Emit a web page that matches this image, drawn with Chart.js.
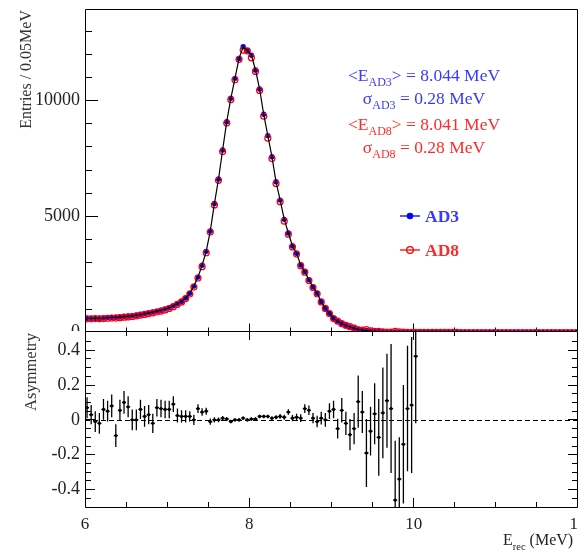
<!DOCTYPE html>
<html>
<head>
<meta charset="utf-8">
<title>AD3 / AD8 reconstructed energy</title>
<script src="https://cdn.jsdelivr.net/npm/chart.js@4.4.1/dist/chart.umd.min.js"></script>
<style>
  html, body { margin: 0; padding: 0; background: #fff; }
  #wrap { position: relative; width: 578px; height: 550px; overflow: hidden; background: #fff; }
  #spec { position: absolute; left: 0; top: 0; }
  #asym { position: absolute; left: 0; top: 331px; background: #fff; }
</style>
</head>
<body>
<div id="wrap">
  <canvas id="spec" width="578" height="340"></canvas>
  <canvas id="asym" width="578" height="219"></canvas>
</div>
<script>
// Histogram binning: 0.05 MeV bins from 6 to 12 MeV
const BIN_LO = 6.0;
const BIN_W = 0.05;

// Entries per bin, AD3
const ad3Counts = [
  615, 610, 605, 615, 625, 640, 650, 655, 670, 690,
  705, 720, 745, 775, 810, 845, 880, 920, 960, 1010,
  1070, 1150, 1240, 1340, 1490, 1690, 2000, 2390, 2900, 3500,
  4380, 5560, 6620, 7870, 9090, 10100, 10960, 11820, 12320, 12160,
  11960, 11320, 10500, 9410, 8490, 7580, 6500, 5710, 4880, 4290,
  3730, 3420, 2910, 2630, 2270, 1960, 1690, 1330, 1045, 830,
  615, 480, 390, 300, 235, 180, 140, 110, 85, 65,
  52, 42, 34, 28, 23, 19, 15, 12, 10, 8,
  6, 5, 4, 4, 3, 3, 3, 2, 2, 2,
  2, 2, 1, 1, 1, 1, 1, 1, 1, 1,
  1, 1, 1, 0, 1, 0, 0, 1, 0, 0,
  0, 0, 0, 1, 0, 0, 0, 0, 0, 0
];

// Entries per bin, AD8
const ad8Counts = [
  590, 590, 600, 590, 600, 615, 625, 620, 640, 660,
  670, 690, 715, 745, 780, 815, 850, 885, 925, 975,
  1035, 1115, 1215, 1320, 1465, 1660, 1960, 2350, 2840, 3440,
  4330, 5500, 6560, 7800, 9030, 10040, 10900, 11780, 12180, 12140,
  11850, 11260, 10440, 9330, 8380, 7500, 6420, 5640, 4800, 4240,
  3690, 3380, 2880, 2600, 2240, 1940, 1670, 1320, 1040, 820,
  600, 490, 380, 305, 250, 190, 115, 100, 125, 75,
  50, 50, 31, 22, 20, 45, 30, 16, 9, 7,
  3, 4, 4, 3, 3, 2, 2, 2, 2, 2,
  2, 1, 1, 1, 1, 1, 1, 1, 1, 1,
  1, 1, 0, 1, 0, 0, 1, 0, 0, 0,
  0, 0, 0, 0, 0, 1, 0, 0, 0, 0
];

// Bin-by-bin asymmetry and its error (6.0 - 10.05 MeV)
const asymValues = [
  0.07, 0.03, -0.01, -0.02, 0.06, 0.05, 0.08, -0.09, 0.055, 0.10,
  0.075, 0.0, 0.0, 0.06, 0.02, 0.03, -0.02, 0.07, 0.065, 0.06,
  0.06, 0.09, 0.025, 0.02, 0.02, 0.02, 0.0, 0.065, 0.045, 0.05,
  -0.01, 0.0, 0.0, 0.01, 0.005, -0.01, 0.0, 0.0, 0.01, 0.0,
  0.005, 0.005, 0.02, 0.02, 0.02, 0.01, 0.015, 0.02, 0.015, 0.045,
  0.01, 0.015, 0.01, 0.065, 0.055, 0.01, -0.01, 0.01, 0.0, 0.05,
  0.06, -0.05, 0.055, -0.02, -0.085, -0.05, 0.105, 0.045, -0.19, -0.065,
  0.035, -0.10, 0.04, 0.11, 0.065, -0.46, -0.34, -0.14, 0.065, 0.085,
  0.365
];
const asymErrors = [
  0.06, 0.055, 0.06, 0.06, 0.06, 0.06, 0.065, 0.065, 0.06, 0.065,
  0.06, 0.06, 0.06, 0.055, 0.06, 0.055, 0.055, 0.05, 0.05, 0.05,
  0.05, 0.045, 0.04, 0.035, 0.035, 0.03, 0.03, 0.025, 0.022, 0.02,
  0.018, 0.015, 0.013, 0.012, 0.011, 0.01, 0.01, 0.01, 0.01, 0.01,
  0.01, 0.01, 0.01, 0.01, 0.01, 0.01, 0.012, 0.013, 0.015, 0.016,
  0.018, 0.02, 0.022, 0.025, 0.027, 0.03, 0.033, 0.037, 0.04, 0.045,
  0.05, 0.057, 0.07, 0.067, 0.09, 0.09, 0.15, 0.12, 0.195, 0.14,
  0.175, 0.22, 0.26, 0.27, 0.37, 0.34, 0.24, 0.34, 0.36, 0.39,
  0.385
];

// Axis ticks
const xMajorTicks = [6, 8, 10, 12];
const xMinorTicks = [6.5, 7, 7.5, 8.5, 9, 9.5, 10.5, 11, 11.5];
const specYLabels = [0, 5000, 10000];
const specYMinor = [1000, 2000, 3000, 4000, 6000, 7000, 8000, 9000, 11000, 12000, 13000];
const asymYLabels = [-0.4, -0.2, 0, 0.2, 0.4];
const asymYMinor = [-0.45, -0.35, -0.3, -0.25, -0.15, -0.1, -0.05, 0.05, 0.1, 0.15, 0.25, 0.3, 0.35, 0.45];

// Fitted peak statistics
const detectors = ['AD3', 'AD8'];
const meanEnergy = ['8.044', '8.041'];
const sigmaEnergy = ['0.28', '0.28'];

const SERIF = "'Liberation Serif', 'Times New Roman', serif";
const BLUE = '#0000ff';
const RED = '#ff0000';
const TEXT_BLUE = '#3838ff';
const TEXT_RED = '#ff2a2a';
const INK = '#222';

const SPEC_MAX = 13950;
const ASYM_MIN = -0.5;
const ASYM_MAX = 0.51;

const binCenters = ad3Counts.map((_, i) => BIN_LO + BIN_W * (i + 0.5));
const toPoints = counts => counts.map((c, i) => ({ x: binCenters[i], y: c }));

// ---- helpers ----
function richWidth(ctx, parts, size, subSize) {
  let w = 0;
  parts.forEach(p => {
    ctx.font = `${p.sub ? subSize : size}px ${SERIF}`;
    w += ctx.measureText(p.t).width;
  });
  return w;
}

function drawRich(ctx, parts, x, y, size, subSize, color) {
  ctx.fillStyle = color;
  ctx.textAlign = 'left';
  ctx.textBaseline = 'alphabetic';
  parts.forEach(p => {
    ctx.font = `${p.sub ? subSize : size}px ${SERIF}`;
    ctx.fillText(p.t, x, p.sub ? y + 5 : y);
    x += ctx.measureText(p.t).width;
  });
}

const fitNoPad = s => { s.paddingTop = 0; s.paddingBottom = 0; s.paddingLeft = 0; s.paddingRight = 0; };

// Grid options that only draw short inward tick marks
const inwardTicks = len => ({
  display: true, drawOnChartArea: false, drawTicks: true, tickLength: -len,
  color: '#000', tickColor: '#000', lineWidth: 1, tickWidth: 1
});

// Zero-size axis that carries nothing but a set of inward ticks
function tickAxis(axis, position, min, max, values, len) {
  return {
    type: 'linear', axis, position, min, max, weight: 0,
    afterBuildTicks: s => { s.ticks = values.map(v => ({ value: v })); },
    afterFit: s => { if (axis === 'x') s.height = 0; else s.width = 0; fitNoPad(s); },
    grid: inwardTicks(len),
    border: { display: false },
    ticks: { display: false }
  };
}

// Plain rectangular frame round the plot area
const frameBox = {
  id: 'frameBox',
  afterDraw(chart) {
    const { ctx, chartArea: a } = chart;
    const L = Math.round(a.left) + 0.5;
    const R = Math.round(a.right) - 0.5;
    const T = Math.round(a.top) + 0.5;
    const B = Math.round(a.bottom) + 0.5;
    ctx.save();
    ctx.strokeStyle = '#000';
    ctx.lineWidth = 1;
    ctx.beginPath();
    ctx.moveTo(L, B); ctx.lineTo(L, T); ctx.lineTo(R, T); ctx.lineTo(R, B); ctx.lineTo(L, B);
    ctx.stroke();
    ctx.restore();
  }
};

// Peak statistics and legend on the spectrum pad
const spectrumNotes = {
  id: 'spectrumNotes',
  afterDraw(chart) {
    const ctx = chart.ctx;
    const colors = [TEXT_BLUE, TEXT_RED];
    const baselines = [[81, 104], [130, 153]];
    ctx.save();
    detectors.forEach((d, k) => {
      const lines = [
        [{ t: '<E' }, { t: d, sub: true }, { t: '> = ' + meanEnergy[k] + ' MeV' }],
        [{ t: 'σ' }, { t: d, sub: true }, { t: ' = ' + sigmaEnergy[k] + ' MeV' }]
      ];
      lines.forEach((parts, j) => {
        const w = richWidth(ctx, parts, 17.5, 12);
        drawRich(ctx, parts, 424 - w / 2, baselines[k][j], 17.5, 12, colors[k]);
      });
    });

    // legend entries
    const legendY = [216, 250];
    const markColors = [BLUE, RED];
    detectors.forEach((d, k) => {
      const yy = legendY[k];
      ctx.strokeStyle = markColors[k];
      ctx.lineWidth = 1.3;
      ctx.beginPath();
      ctx.moveTo(400, yy); ctx.lineTo(420, yy);
      ctx.stroke();
      ctx.beginPath();
      ctx.arc(410, yy, 3.3, 0, Math.PI * 2);
      if (k === 0) { ctx.fillStyle = BLUE; ctx.fill(); }
      else { ctx.fillStyle = '#fff'; ctx.fill(); ctx.stroke(); ctx.beginPath(); ctx.moveTo(406.7, yy); ctx.lineTo(413.3, yy); ctx.stroke(); }
      ctx.font = `bold 17.5px ${SERIF}`;
      ctx.fillStyle = k === 0 ? TEXT_BLUE : TEXT_RED;
      ctx.textAlign = 'left';
      ctx.textBaseline = 'middle';
      ctx.fillText(d, 425, yy + 1);
    });

    // vertical axis title
    ctx.font = `16px ${SERIF}`;
    ctx.fillStyle = '#333';
    ctx.translate(27, 10);
    ctx.rotate(-Math.PI / 2);
    ctx.textAlign = 'right';
    ctx.textBaseline = 'middle';
    ctx.fillText('Entries / 0.05MeV', 0, 0);
    ctx.restore();
  }
};

// Error bars, zero line and titles on the asymmetry pad
const asymDecor = {
  id: 'asymDecor',
  beforeDatasetsDraw(chart) {
    const { ctx, chartArea: a, scales: { x, y } } = chart;
    ctx.save();
    ctx.strokeStyle = '#000';
    ctx.lineWidth = 1;
    ctx.setLineDash([5, 3]);
    const y0 = Math.round(y.getPixelForValue(0)) + 0.5;
    ctx.beginPath();
    ctx.moveTo(x.getPixelForValue(6), y0);
    ctx.lineTo(x.getPixelForValue(12), y0);
    ctx.stroke();
    ctx.setLineDash([]);

    ctx.beginPath();
    ctx.rect(a.left, a.top, a.right - a.left, a.bottom - a.top);
    ctx.clip();
    ctx.lineWidth = 1.3;
    ctx.beginPath();
    asymValues.forEach((v, i) => {
      const xc = x.getPixelForValue(binCenters[i]);
      const xl = x.getPixelForValue(binCenters[i] - BIN_W / 2);
      const xr = x.getPixelForValue(binCenters[i] + BIN_W / 2);
      const yc = y.getPixelForValue(v);
      ctx.moveTo(xc, y.getPixelForValue(v - asymErrors[i]));
      ctx.lineTo(xc, y.getPixelForValue(v + asymErrors[i]));
      ctx.moveTo(xl, yc);
      ctx.lineTo(xr, yc);
    });
    ctx.stroke();
    ctx.restore();
  },
  afterDraw(chart) {
    const ctx = chart.ctx;
    ctx.save();
    ctx.fillStyle = '#333';
    ctx.font = `16.5px ${SERIF}`;
    ctx.translate(32, 2);
    ctx.rotate(-Math.PI / 2);
    ctx.textAlign = 'right';
    ctx.textBaseline = 'middle';
    ctx.fillText('Asymmetry', 0, 0);
    ctx.restore();

    ctx.save();
    drawRich(ctx, [{ t: 'E' }, { t: 'rec', sub: true }, { t: ' (MeV)' }], 503, 214, 16, 10.5, INK);
    ctx.restore();
  }
};

// ---- spectrum pad ----
new Chart(document.getElementById('spec'), {
  type: 'scatter',
  data: {
    datasets: [
      {
        label: 'AD3', data: toPoints(ad3Counts), order: 3,
        pointRadius: 2.7, pointBackgroundColor: BLUE, pointBorderColor: BLUE, pointBorderWidth: 0
      },
      {
        label: 'AD8', data: toPoints(ad8Counts), order: 2,
        pointRadius: 3, pointBackgroundColor: 'rgba(0,0,0,0)', pointBorderColor: RED, pointBorderWidth: 1.2
      },
      {
        label: 'curve', data: toPoints(ad3Counts), order: 1, showLine: true,
        pointRadius: 0, borderColor: '#000', borderWidth: 1.2, tension: 0
      }
    ]
  },
  options: {
    responsive: false,
    animation: false,
    events: [],
    layout: { autoPadding: false, padding: { top: 9, right: 0, left: 0, bottom: 7.5 } },
    plugins: {
      legend: { display: false },
      tooltip: { enabled: false }
    },
    scales: {
      x: {
        type: 'linear', position: 'bottom', min: 6, max: 12, weight: 1,
        afterBuildTicks: s => { s.ticks = xMajorTicks.map(v => ({ value: v })); },
        afterFit: s => { s.height = 0; fitNoPad(s); },
        grid: inwardTicks(9),
        border: { display: false },
        ticks: { display: false }
      },
      xMinor: tickAxis('x', 'bottom', 6, 12, xMinorTicks, 5),
      y: {
        position: 'left', min: 0, max: SPEC_MAX, weight: 1,
        afterBuildTicks: s => { s.ticks = specYLabels.map(v => ({ value: v })); },
        afterFit: s => { s.width = 85; fitNoPad(s); },
        grid: inwardTicks(13),
        border: { display: false },
        ticks: { padding: 18, autoSkip: false, color: INK, font: { family: SERIF, size: 18 }, callback: v => String(v) }
      },
      yMinor: tickAxis('y', 'left', 0, SPEC_MAX, specYMinor, 7)
    }
  },
  plugins: [frameBox, spectrumNotes]
});

// ---- asymmetry pad ----
new Chart(document.getElementById('asym'), {
  type: 'scatter',
  data: {
    datasets: [{
      label: 'asymmetry',
      data: asymValues.map((v, i) => ({ x: binCenters[i], y: v })),
      pointRadius: 1.6, pointBackgroundColor: '#000', pointBorderWidth: 0
    }]
  },
  options: {
    responsive: false,
    animation: false,
    events: [],
    layout: { autoPadding: false, padding: { top: 0, right: 0, left: 0, bottom: 0 } },
    plugins: {
      legend: { display: false },
      tooltip: { enabled: false }
    },
    scales: {
      x: {
        type: 'linear', position: 'bottom', min: 6, max: 12, weight: 1,
        afterBuildTicks: s => { s.ticks = xMajorTicks.map(v => ({ value: v })); },
        afterFit: s => { s.height = 43; fitNoPad(s); },
        grid: inwardTicks(9),
        border: { display: false },
        ticks: { padding: 16, maxRotation: 0, autoSkip: false, color: INK, font: { family: SERIF, size: 17 }, callback: v => String(v) }
      },
      xMinor: tickAxis('x', 'bottom', 6, 12, xMinorTicks, 5),
      xTop: tickAxis('x', 'top', 6, 12, xMajorTicks, 9),
      xTopMinor: tickAxis('x', 'top', 6, 12, xMinorTicks, 5),
      y: {
        position: 'left', min: ASYM_MIN, max: ASYM_MAX, weight: 1,
        afterBuildTicks: s => { s.ticks = asymYLabels.map(v => ({ value: v })); },
        afterFit: s => { s.width = 85; fitNoPad(s); },
        grid: inwardTicks(10),
        border: { display: false },
        ticks: { padding: 15, autoSkip: false, color: INK, font: { family: SERIF, size: 18 }, callback: v => String(v) }
      },
      yMinor: tickAxis('y', 'left', ASYM_MIN, ASYM_MAX, asymYMinor, 6),
      yRight: tickAxis('y', 'right', ASYM_MIN, ASYM_MAX, asymYLabels, 10),
      yRightMinor: tickAxis('y', 'right', ASYM_MIN, ASYM_MAX, asymYMinor, 6)
    }
  },
  plugins: [frameBox, asymDecor]
});
</script>
</body>
</html>
